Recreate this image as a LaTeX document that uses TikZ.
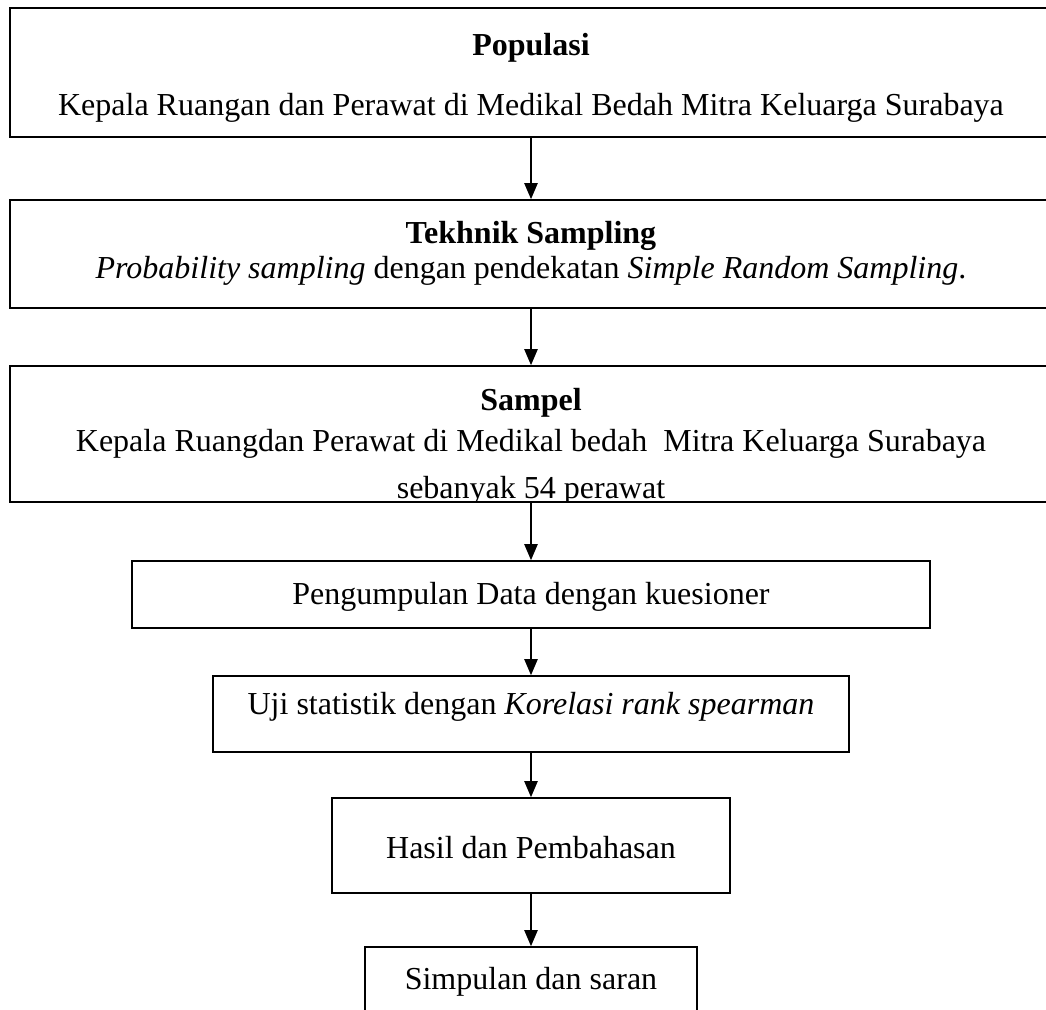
\documentclass[tikz,border=0pt]{standalone}
\usepackage{fontspec}
\setmainfont{Liberation Serif}
\usetikzlibrary{arrows.meta,fit}

\begin{document}
\begin{tikzpicture}[x=0.75pt,y=-0.75pt,
  box/.style={draw, line width=1.3pt, inner sep=0pt},
  txt/.style={inner sep=0pt, font=\fontsize{24}{29}\selectfont},
  head/.style={inner sep=0pt, font=\fontsize{24}{29}\selectfont\bfseries},
  flow/.style={-{Triangle[length=12pt,width=10pt]}, line width=1pt}]
  \useasboundingbox (0,0) rectangle (1046,1010);
  \clip (0,0) rectangle (1046,1010);

  % populasi
  \node[box, fit={(10,8) (1052,137)}] (populasi) {};
  \node[head] (populasiJudul) at (531,48) {Populasi};
  \node[txt] (populasiIsi) at (531,108) {Kepala Ruangan dan Perawat di Medikal Bedah Mitra Keluarga Surabaya};

  % tekhnik sampling
  \node[box, fit={(10,200) (1052,308)}] (tekhnik) {};
  \node[head] (tekhnikJudul) at (531,236) {Tekhnik Sampling};
  \node[txt] (tekhnikIsi) at (531,271) {\textit{Probability sampling} dengan pendekatan \textit{Simple Random Sampling}.};

  % sampel, baris terakhir terpotong oleh garis kotak
  \node[box, fit={(10,366) (1052,502)}] (sampel) {};
  \node[head] (sampelJudul) at (531,403) {Sampel};
  \node[txt] (sampelIsi) at (531,444) {Kepala Ruangdan Perawat di Medikal bedah~ Mitra Keluarga Surabaya};
  \begin{scope}
    \clip (10,366) rectangle (1052,501);
    \node[txt, anchor=base] (sampelJumlah) at (531,498) {sebanyak 54 perawat};
  \end{scope}

  % langkah berikutnya
  \node[box, fit={(132,561) (930,628)}] (kumpul) {};
  \node[txt] (kumpulIsi) at (531,597) {Pengumpulan Data dengan kuesioner};

  \node[box, fit={(213,676) (849,752)}] (uji) {};
  \node[txt] (ujiIsi) at (531,707) {Uji statistik dengan \textit{Korelasi rank spearman}};

  \node[box, fit={(332,798) (730,893)}] (hasil) {};
  \node[txt] (hasilIsi) at (531,848) {Hasil dan Pembahasan};

  \node[box, fit={(365,947) (697,1040)}] (simpulan) {};
  \node[txt] (simpulanIsi) at (531,982) {Simpulan dan saran};

  % panah
  \draw[flow] (populasi.south) -- (tekhnik.north);
  \draw[flow] (tekhnik.south) -- (sampel.north);
  \draw[flow] (sampel.south) -- (kumpul.north);
  \draw[flow] (kumpul.south) -- (uji.north);
  \draw[flow] (uji.south) -- (hasil.north);
  \draw[flow] (hasil.south) -- (simpulan.north);
\end{tikzpicture}
\end{document}
